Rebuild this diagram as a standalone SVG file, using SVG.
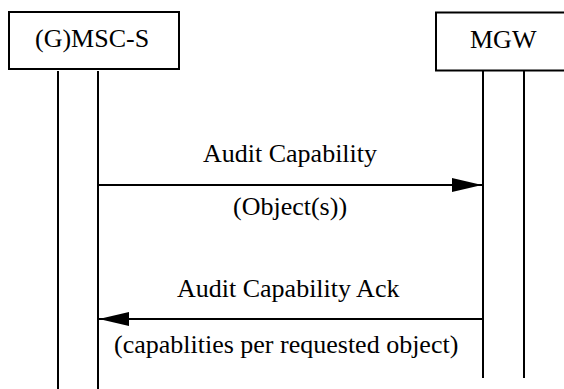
<svg xmlns="http://www.w3.org/2000/svg" width="564" height="389" viewBox="0 0 564 389">
<style>
.box{fill:#fff;stroke:#000;stroke-width:2}
.life{stroke:#000;stroke-width:2;fill:none}
.msg{stroke:#000;stroke-width:2;fill:none}
.t{font-family:'Liberation Serif','Times New Roman',Times,serif;font-size:26px;fill:#000}
</style>
<defs>
<marker id="ah" markerWidth="30" markerHeight="14" refX="30" refY="7" orient="auto" markerUnits="userSpaceOnUse">
<path d="M0,0 L30,7 L0,14 Z" fill="#000"/>
</marker>
</defs>
<rect width="564" height="389" fill="#fff"/>
<g id="node-msc">
<rect class="box" x="9" y="12" width="170" height="57"/>
<text class="t" x="35" y="47">(G)MSC-S</text>
<line class="life" x1="58" y1="71" x2="58" y2="389"/>
<line class="life" x1="98" y1="71" x2="98" y2="389"/>
</g>
<g id="node-mgw">
<rect class="box" x="436" y="12.5" width="140" height="58"/>
<text class="t" x="470" y="48">MGW</text>
<line class="life" x1="483" y1="71" x2="483" y2="378"/>
<line class="life" x1="524" y1="71" x2="524" y2="378"/>
</g>
<g id="connectors">
<line class="msg" x1="98" y1="185" x2="482" y2="185" marker-end="url(#ah)"/>
<text class="t" x="203" y="162">Audit Capability</text>
<text class="t" x="233" y="215">(Object(s))</text>
<line class="msg" x1="483" y1="319" x2="99" y2="319" marker-end="url(#ah)"/>
<text class="t" x="177" y="297">Audit Capability Ack</text>
<text class="t" x="114" y="353">(capablities per requested object)</text>
</g>
</svg>
